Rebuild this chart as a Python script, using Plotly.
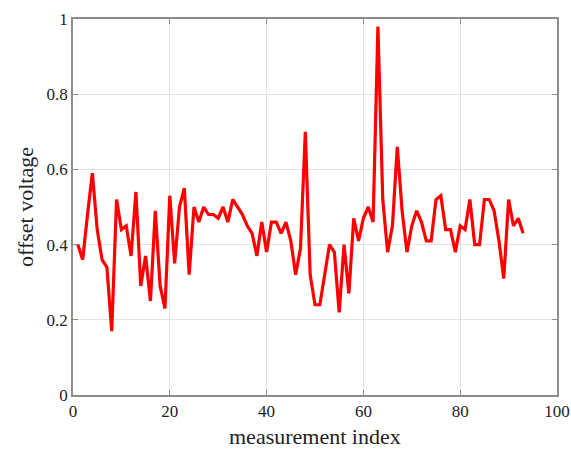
import plotly.graph_objects as go

index = list(range(1, 94))
offset_voltage = [
    0.40, 0.36, 0.48, 0.59, 0.44, 0.36, 0.34, 0.17, 0.52, 0.44,
    0.45, 0.37, 0.54, 0.29, 0.37, 0.25, 0.49, 0.29, 0.23, 0.53,
    0.35, 0.50, 0.55, 0.32, 0.50, 0.46, 0.50, 0.48, 0.48, 0.47,
    0.50, 0.46, 0.52, 0.50, 0.48, 0.45, 0.43, 0.37, 0.46, 0.38,
    0.46, 0.46, 0.43, 0.46, 0.41, 0.32, 0.39, 0.70, 0.32, 0.24,
    0.24, 0.32, 0.40, 0.38, 0.22, 0.40, 0.27, 0.47, 0.41, 0.47,
    0.50, 0.46, 0.98, 0.52, 0.38, 0.45, 0.66, 0.49, 0.38, 0.45,
    0.49, 0.46, 0.41, 0.41, 0.52, 0.53, 0.44, 0.44, 0.38, 0.45,
    0.44, 0.52, 0.40, 0.40, 0.52, 0.52, 0.49, 0.41, 0.31, 0.52,
    0.45, 0.47, 0.43,
]
x_ticks = [0, 20, 40, 60, 80, 100]
y_ticks = [0, 0.2, 0.4, 0.6, 0.8, 1]
y_tick_labels = ["0", "0.2", "0.4", "0.6", "0.8", "1"]

fig = go.Figure()
fig.add_trace(go.Scatter(
    x=index, y=offset_voltage, mode="lines",
    line=dict(color="#ff0000", width=3.2),
    showlegend=False,
))

font_family = "Liberation Serif, DejaVu Serif, serif"
axis_common = dict(
    showline=True, linecolor="#8c8c8c", linewidth=1.5, mirror="ticks",
    ticks="inside", ticklen=5, tickcolor="#8c8c8c", tickwidth=1,
    showgrid=True, gridcolor="#e3e3e3", gridwidth=1,
    zeroline=False, automargin=False, ticklabeloverflow="allow",
    tickfont=dict(family=font_family, size=17, color="#222222"),
)
fig.update_xaxes(range=[0, 100], tickvals=x_ticks, **axis_common)
fig.update_yaxes(
    range=[0, 1], tickvals=y_ticks, ticktext=y_tick_labels,
    title=dict(text="offset voltage", font=dict(family=font_family, size=22, color="#222222"), standoff=7),
    **axis_common,
)
fig.add_annotation(
    text="measurement index", xref="paper", yref="paper",
    x=0.5, y=-0.11, xanchor="center", yanchor="middle", showarrow=False,
    font=dict(family=font_family, size=22, color="#222222"),
)
fig.update_layout(
    width=571, height=450,
    margin=dict(l=73, r=14, t=19, b=55),
    paper_bgcolor="white", plot_bgcolor="white",
)
fig.write_html(
    "out.html",
    config={"displayModeBar": False},
    post_script="document.body.style.margin='0';document.body.style.overflow='hidden';",
)
